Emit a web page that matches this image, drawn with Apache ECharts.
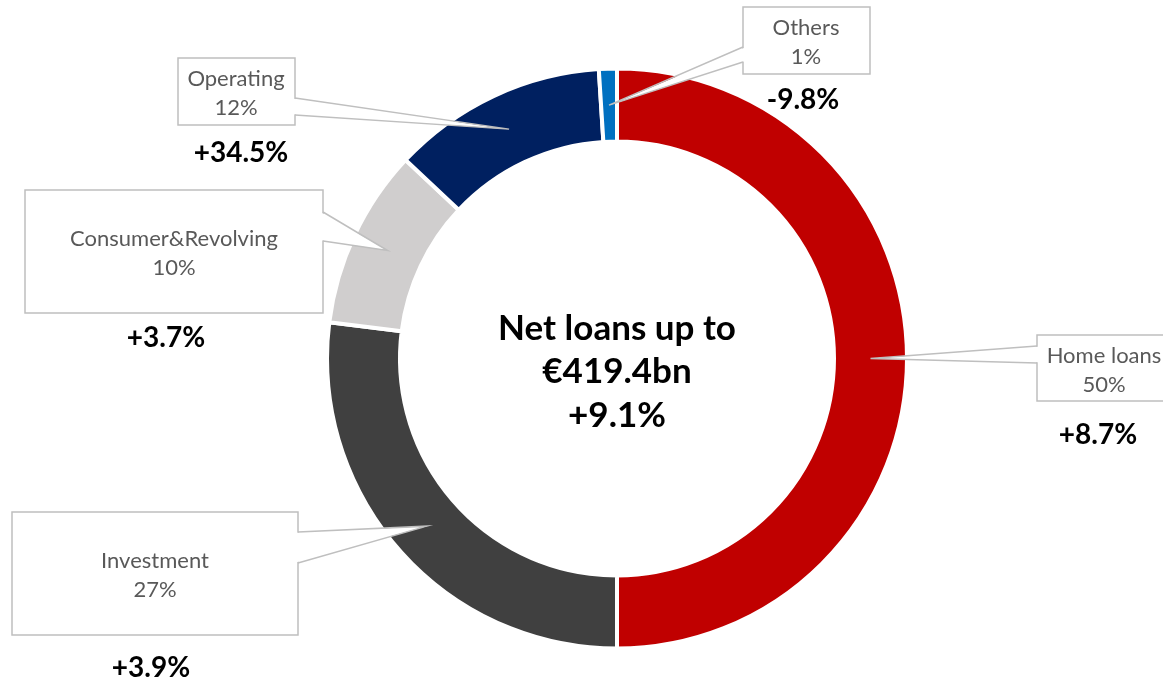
<!DOCTYPE html>
<html>
<head>
<meta charset="utf-8">
<script src="https://cdn.jsdelivr.net/npm/echarts@6/dist/echarts.min.js"></script>
<style>
  html, body { margin: 0; padding: 0; background: #ffffff; }
  #chart { width: 1163px; height: 687px; }
</style>
</head>
<body>
<div id="chart"></div>
<script>
// Loan book breakdown (share of net loans, %) and year-on-year change
const categories = ['Home loans', 'Investment', 'Consumer&Revolving', 'Operating', 'Others'];
const shares = [50, 27, 10, 12, 1];
const changes = ['+8.7%', '+3.9%', '+3.7%', '+34.5%', '-9.8%'];
const centerLines = ['Net loans up to', '€419.4bn', '+9.1%'];

const sliceColors = ['#C00000', '#404040', '#D0CECE', '#002060', '#0070C0'];

// Callout boxes: rectangle, the two points on its edge where the pointer starts,
// text centre, and where the change figure sits underneath.
const callouts = [
  { box: [1037, 335, 132, 66], base: [[1037, 346], [1037, 363]], text: [1104, 370], change: [1098, 435] },
  { box: [12, 512, 286, 123], base: [[298, 532], [298, 563]], text: [155, 575], change: [151, 668] },
  { box: [25, 190, 298, 123], base: [[323, 212], [323, 241]], text: [174, 253], change: [166, 338] },
  { box: [178, 58, 117, 67], base: [[295, 98], [295, 115]], text: [236, 93], change: [241, 153] },
  { box: [743, 7, 127, 67], base: [[743, 47], [743, 62]], text: [806, 42], change: [803, 100] }
];

const FONT = 'Lato, "Noto Sans", sans-serif';
const chart = echarts.init(document.getElementById('chart'), null, { renderer: 'canvas' });

chart.setOption({
  backgroundColor: '#ffffff',
  animation: false,
  series: [{
    type: 'pie',
    center: [617, 358.5],
    radius: [217, 290],
    startAngle: 90,
    clockwise: true,
    avoidLabelOverlap: false,
    label: { show: false },
    labelLine: { show: false },
    emphasis: { disabled: true },
    itemStyle: { borderColor: '#ffffff', borderWidth: 4 },
    data: categories.map((name, i) => ({
      name: name,
      value: shares[i],
      itemStyle: { color: sliceColors[i] }
    }))
  }]
});

// Callouts pointing at the middle of each ring segment
const seriesData = chart.getModel().getSeriesByIndex(0).getData();
const elements = [];
const LINE = '#bfbfbf';

categories.forEach((name, i) => {
  const L = seriesData.getItemLayout(i);
  const mid = (L.startAngle + L.endAngle) / 2;
  const rm = (L.r + L.r0) / 2;
  const tip = [L.cx + rm * Math.cos(mid), L.cy + rm * Math.sin(mid)];
  const c = callouts[i];
  const [bx, by, bw, bh] = c.box;
  const inward = (bx + bw / 2) > c.base[0][0] ? 1.5 : -1.5;
  const b1 = c.base[0], b2 = c.base[1];

  elements.push({
    type: 'rect', z: 100,
    shape: { x: bx, y: by, width: bw, height: bh },
    style: { fill: '#ffffff', stroke: LINE, lineWidth: 1.5 }
  });
  elements.push({
    type: 'polygon', z: 101,
    shape: { points: [[b1[0] + inward, b1[1] + 0.8], tip, [b2[0] + inward, b2[1] - 0.8]] },
    style: { fill: '#ffffff', stroke: null }
  });
  elements.push({
    type: 'polyline', z: 102,
    shape: { points: [b1, tip, b2] },
    style: { stroke: LINE, lineWidth: 1.5, fill: null }
  });
  elements.push({
    type: 'text', z: 103,
    x: c.text[0], y: c.text[1],
    style: {
      text: name + '\n' + shares[i] + '%',
      fill: '#595959', font: '22px ' + FONT,
      align: 'center', verticalAlign: 'middle', lineHeight: 29
    }
  });
  elements.push({
    type: 'text', z: 103,
    x: c.change[0], y: c.change[1],
    style: {
      text: changes[i],
      fill: '#000000', font: 'bold 28px ' + FONT,
      align: 'center', verticalAlign: 'middle'
    }
  });
});

elements.push({
  type: 'text', z: 103,
  x: 617, y: 372,
  style: {
    text: centerLines.join('\n'),
    fill: '#000000', font: 'bold 35px ' + FONT,
    align: 'center', verticalAlign: 'middle', lineHeight: 43.5
  }
});

chart.setOption({ graphic: { elements: elements } });
</script>
</body>
</html>
